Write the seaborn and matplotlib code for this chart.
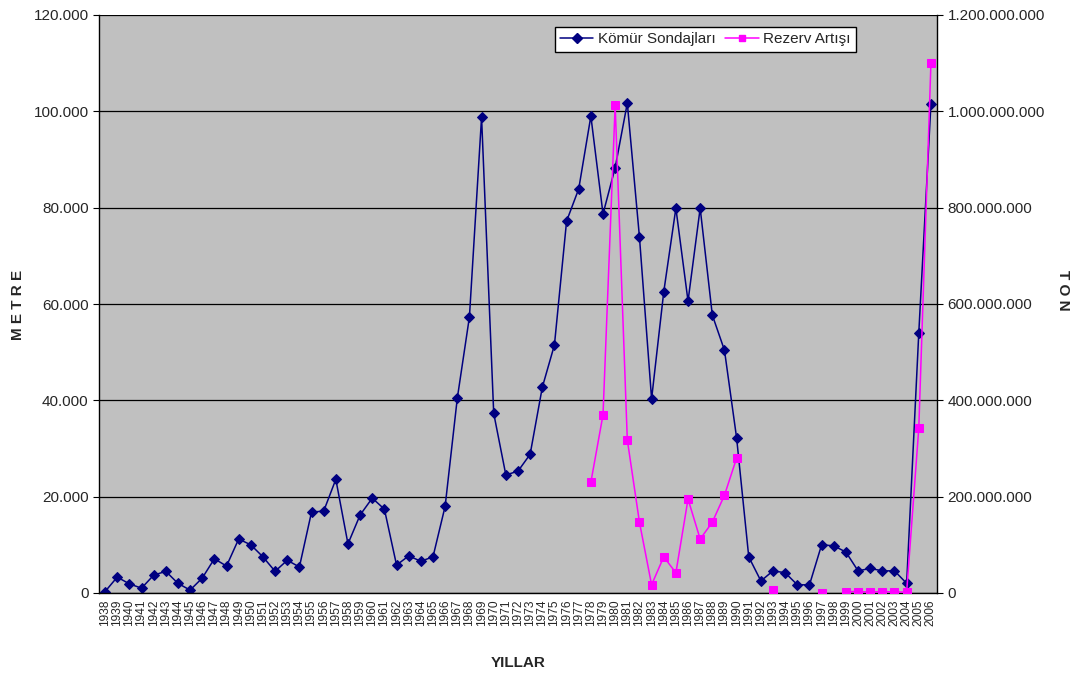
import numpy as np
import pandas as pd
import matplotlib
matplotlib.use("Agg")
import matplotlib.pyplot as plt
from matplotlib.lines import Line2D
from matplotlib.ticker import FuncFormatter, MultipleLocator
import seaborn as sns

years = list(range(1938, 2007))

komur = [300, 3300, 1900, 1000, 3700, 4500, 2000, 600, 3100, 7100,
         5600, 11200, 10000, 7500, 4500, 6800, 5400, 16800, 17000, 23600,
         10200, 16200, 19700, 17400, 5800, 7700, 6600, 7500, 18000, 40400,
         57300, 98800, 37300, 24500, 25300, 28800, 42700, 51500, 77200, 83900,
         99000, 78700, 88300, 101700, 73900, 40300, 62500, 79900, 60600, 79900,
         57700, 50400, 32200, 7500, 2500, 4600, 4200, 1700, 1700, 10000,
         9800, 8500, 4600, 5100, 4600, 4600, 2000, 54000, 101500]

nan = np.nan
rezerv = [nan] * 40 + [
    230e6, 370e6, 1013e6, 318e6, 147e6, 17e6, 75e6, 42e6, 195e6, 112e6,  # 1978-1987
    147e6, 203e6, 280e6,                                                  # 1988-1990
    nan, nan, 7e6, nan, nan, nan, 1e6, nan,                               # 1991-1998
    3e6, 3e6, 2e6, 3e6, 2e6, 2e6, 342e6, 1100e6]                          # 1999-2006

label_komur = "Kömür Sondajları"
label_rezerv = "Rezerv Artışı"

def segments(vals):
    seg = []
    s = 0
    prev_nan = True
    for v in vals:
        if np.isnan(v):
            seg.append(-1)
            prev_nan = True
        else:
            if prev_nan:
                s += 1
            seg.append(s)
            prev_nan = False
    return seg

df_k = pd.DataFrame({"yil": years, "deger": komur, "seg": segments(komur)})
df_r = pd.DataFrame({"yil": years, "deger": rezerv, "seg": segments(rezerv)})
df_r = df_r[df_r["seg"] >= 0]

sns.set_style("white")
plt.rcParams["font.family"] = ["Liberation Sans", "DejaVu Sans"]

fig = plt.figure(figsize=(10.78, 6.77), dpi=100)
ax = fig.add_axes([99/1078, 1 - 593/677, (937-99)/1078, (593-15)/677])
ax.set_facecolor("#C0C0C0")
ax2 = ax.twinx()

navy = "#000080"
mag = "#FF00FF"

sns.lineplot(data=df_k, x="yil", y="deger", units="seg", estimator=None,
             color=navy, marker="D", markersize=5.5, linewidth=1.1,
             markeredgecolor=navy, ax=ax, legend=False)
sns.lineplot(data=df_r, x="yil", y="deger", units="seg", estimator=None,
             color=mag, marker="s", markersize=5.5, linewidth=1.1,
             markeredgecolor=mag, ax=ax2, legend=False)

ax.set_xlim(1937.5, 2006.5)
ax.set_ylim(0, 120000)
ax2.set_ylim(0, 1.2e9)

def dotted(v, pos):
    return f"{int(round(v)):,}".replace(",", ".")

ax.yaxis.set_major_locator(MultipleLocator(20000))
ax2.yaxis.set_major_locator(MultipleLocator(2e8))
ax.yaxis.set_major_formatter(FuncFormatter(dotted))
ax2.yaxis.set_major_formatter(FuncFormatter(dotted))

ax.grid(axis="y", color="black", linewidth=0.9)
ax.set_axisbelow(True)
ax.set_xticks(years)
ax.set_xticklabels([str(y) for y in years], rotation=90, fontsize=8.6)
ax.set_xticks(np.arange(1937.5, 2007, 1), minor=True)
ax.tick_params(axis="x", which="major", length=0, pad=5)
ax.tick_params(axis="x", which="minor", length=4, width=0.8, color="black", direction="out")
ax.tick_params(axis="y", length=4, width=0.8, color="black", direction="out", labelsize=11, left=True)
ax2.tick_params(axis="y", length=4, width=0.8, color="black", direction="out", labelsize=11, right=True)

for a in (ax, ax2):
    for sp in a.spines.values():
        sp.set_visible(False)
    a.set_xlabel("")
    a.set_ylabel("")
ax.spines["left"].set_visible(True)
ax.spines["bottom"].set_visible(True)
ax2.spines["right"].set_visible(True)
for sp in (ax.spines["left"], ax.spines["bottom"], ax2.spines["right"]):
    sp.set_color("black")
    sp.set_linewidth(1.0)

fig.text(18/1078, 1 - 305/677, "M E T R E", rotation=90, ha="center", va="center",
         fontsize=11, fontweight="bold")
fig.text(1063/1078, 1 - 290/677, "T O N", rotation=270, ha="center", va="center",
         fontsize=11, fontweight="bold")
fig.text(518/1078, 1 - 663/677, "YILLAR", ha="center", va="center",
         fontsize=11, fontweight="bold")

handles = [Line2D([0], [0], color=navy, marker="D", markersize=5, linewidth=1.1),
           Line2D([0], [0], color=mag, marker="s", markersize=5, linewidth=1.1)]
leg = ax2.legend(handles, [label_komur, label_rezerv], loc="upper right",
                 bbox_to_anchor=((856-99)/838, (593-27)/578), ncol=2,
                 frameon=True, fancybox=False, fontsize=11, handlelength=2.2,
                 handletextpad=0.3, columnspacing=0.6, borderpad=0.35,
                 borderaxespad=0)
leg.get_frame().set_edgecolor("black")
leg.get_frame().set_facecolor("white")
leg.get_frame().set_linewidth(1.0)
leg.get_frame().set_alpha(1)

fig.savefig("out.png", dpi=100, facecolor="white")
